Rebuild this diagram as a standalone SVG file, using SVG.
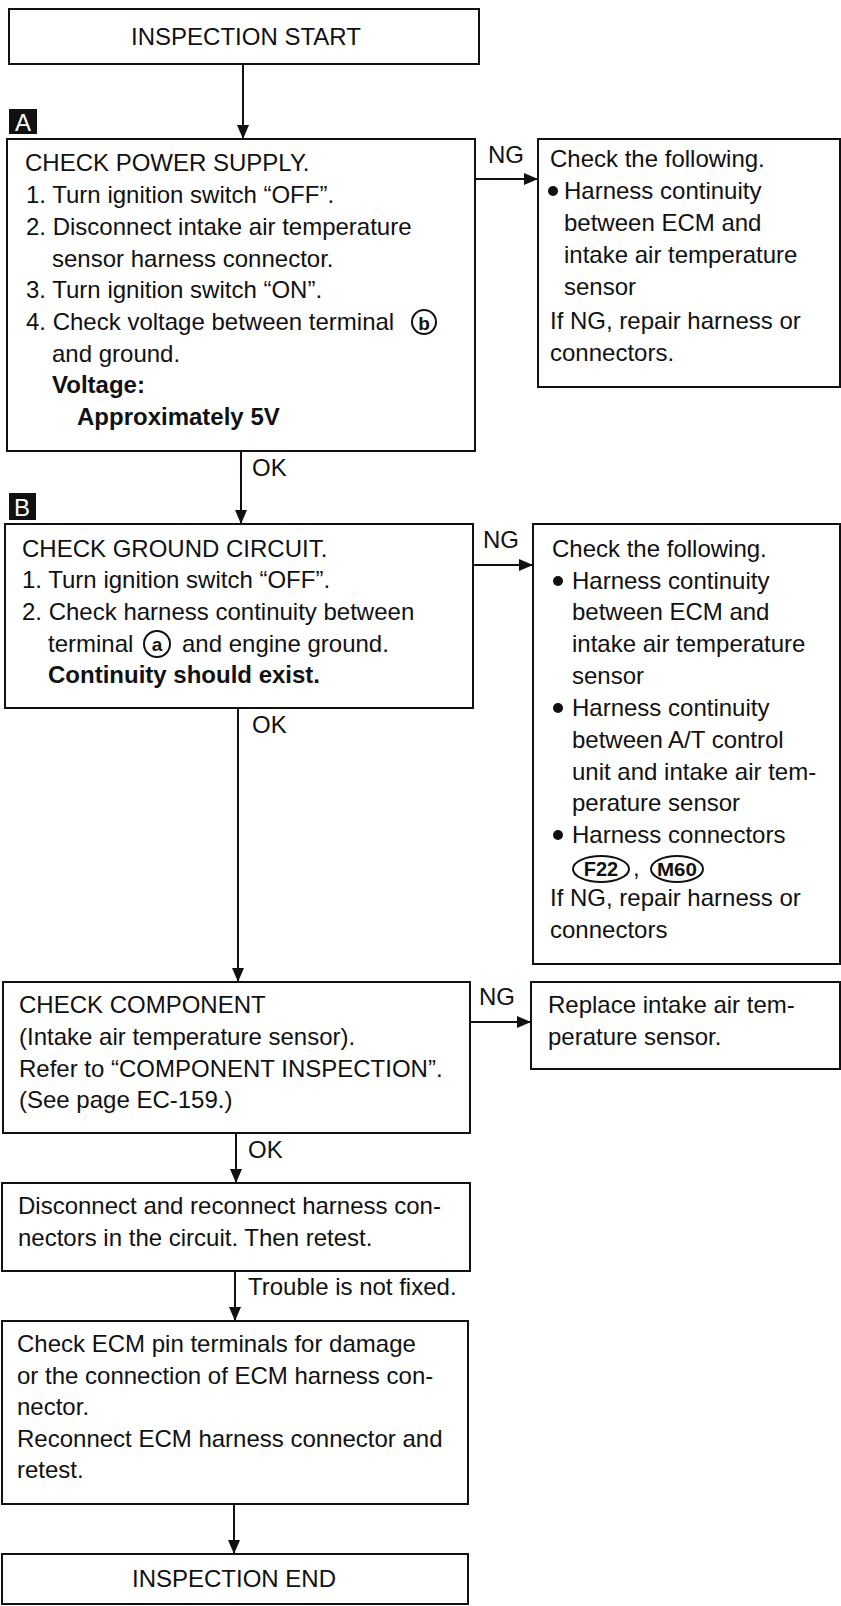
<svg xmlns="http://www.w3.org/2000/svg" width="841" height="1606" viewBox="0 0 841 1606">
<style>
.box{fill:#fff;stroke:#111;stroke-width:2}
.t{font-family:"Liberation Sans",Arial,sans-serif;font-size:24px;fill:#111}
.b{font-weight:bold}
.c{text-anchor:middle}
.edge{stroke:#111;stroke-width:2;fill:none}
.tag{fill:#111}
.tagt{font-family:"Liberation Sans",Arial,sans-serif;font-size:24px;fill:#fff;text-anchor:middle}
.ring{fill:none;stroke:#111;stroke-width:2}
</style>
<defs>
<marker id="ah" markerWidth="14" markerHeight="12" refX="14" refY="6" orient="auto" markerUnits="userSpaceOnUse">
<path d="M0,0 L14,6 L0,12 z" fill="#111"/>
</marker>
</defs>
<rect width="841" height="1606" fill="#fff"/>

<g id="start">
<rect class="box" x="9" y="9" width="470" height="55"/>
<text class="t c" x="246" y="45">INSPECTION START</text>
</g>

<g id="tagA">
<rect class="tag" x="9" y="109" width="28" height="25"/>
<text class="tagt" x="23" y="131">A</text>
</g>

<g id="checkPower">
<rect class="box" x="7" y="139" width="468" height="312"/>
<text class="t" x="25" y="171">CHECK POWER SUPPLY.</text>
<text class="t" x="26" y="203">1. Turn ignition switch “OFF”.</text>
<text class="t" x="26" y="235">2. Disconnect intake air temperature</text>
<text class="t" x="52" y="267">sensor harness connector.</text>
<text class="t" x="26" y="298">3. Turn ignition switch “ON”.</text>
<text class="t" x="26" y="330">4. Check voltage between terminal</text>
<circle class="ring" cx="424" cy="322" r="12"/>
<text class="t b c" x="424" y="330" style="font-size:19px">b</text>
<text class="t" x="52" y="362">and ground.</text>
<text class="t b" x="52" y="393">Voltage:</text>
<text class="t b" x="77" y="425">Approximately 5V</text>
</g>

<g id="ng1">
<rect class="box" x="538" y="139" width="302" height="248"/>
<text class="t" x="550" y="167">Check the following.</text>
<circle cx="553" cy="191" r="5" fill="#111"/>
<text class="t" x="564" y="199">Harness continuity</text>
<text class="t" x="564" y="231">between ECM and</text>
<text class="t" x="564" y="263">intake air temperature</text>
<text class="t" x="564" y="295">sensor</text>
<text class="t" x="550" y="329">If NG, repair harness or</text>
<text class="t" x="550" y="361">connectors.</text>
</g>

<g id="tagB">
<rect class="tag" x="9" y="493" width="27" height="27"/>
<text class="tagt" x="22" y="516">B</text>
</g>

<g id="checkGround">
<rect class="box" x="5" y="524" width="468" height="184"/>
<text class="t" x="22" y="557">CHECK GROUND CIRCUIT.</text>
<text class="t" x="22" y="588">1. Turn ignition switch “OFF”.</text>
<text class="t" x="22" y="620">2. Check harness continuity between</text>
<text class="t" x="48" y="652">terminal</text>
<circle class="ring" cx="157" cy="644" r="13"/>
<text class="t b c" x="157" y="651" style="font-size:19px">a</text>
<text class="t" x="182" y="652">and engine ground.</text>
<text class="t b" x="48" y="683">Continuity should exist.</text>
</g>

<g id="ng2">
<rect class="box" x="533" y="524" width="307" height="440"/>
<text class="t" x="552" y="557">Check the following.</text>
<circle cx="558" cy="581" r="5" fill="#111"/>
<text class="t" x="572" y="589">Harness continuity</text>
<text class="t" x="572" y="620">between ECM and</text>
<text class="t" x="572" y="652">intake air temperature</text>
<text class="t" x="572" y="684">sensor</text>
<circle cx="558" cy="708" r="5" fill="#111"/>
<text class="t" x="572" y="716">Harness continuity</text>
<text class="t" x="572" y="748">between A/T control</text>
<text class="t" x="572" y="780">unit and intake air tem-</text>
<text class="t" x="572" y="811">perature sensor</text>
<circle cx="558" cy="835" r="5" fill="#111"/>
<text class="t" x="572" y="843">Harness connectors</text>
<ellipse class="ring" cx="601" cy="869" rx="28" ry="13"/>
<text class="t b c" x="601" y="876" style="font-size:20px">F22</text>
<text class="t" x="633" y="876">,</text>
<ellipse class="ring" cx="677" cy="869" rx="26" ry="13"/>
<text class="t b c" x="677" y="876" style="font-size:19px" textLength="40" lengthAdjust="spacingAndGlyphs">M60</text>
<text class="t" x="550" y="906">If NG, repair harness or</text>
<text class="t" x="550" y="938">connectors</text>
</g>

<g id="checkComponent">
<rect class="box" x="3" y="982" width="467" height="151"/>
<text class="t" x="19" y="1013">CHECK COMPONENT</text>
<text class="t" x="19" y="1045">(Intake air temperature sensor).</text>
<text class="t" x="19" y="1077">Refer to “COMPONENT INSPECTION”.</text>
<text class="t" x="19" y="1108">(See page EC-159.)</text>
</g>

<g id="ng3">
<rect class="box" x="531" y="982" width="309" height="87"/>
<text class="t" x="548" y="1013">Replace intake air tem-</text>
<text class="t" x="548" y="1045">perature sensor.</text>
</g>

<g id="reconnect">
<rect class="box" x="2" y="1183" width="468" height="88"/>
<text class="t" x="18" y="1214">Disconnect and reconnect harness con-</text>
<text class="t" x="18" y="1246">nectors in the circuit. Then retest.</text>
</g>

<g id="checkEcm">
<rect class="box" x="2" y="1321" width="466" height="183"/>
<text class="t" x="17" y="1352">Check ECM pin terminals for damage</text>
<text class="t" x="17" y="1384">or the connection of ECM harness con-</text>
<text class="t" x="17" y="1415">nector.</text>
<text class="t" x="17" y="1447">Reconnect ECM harness connector and</text>
<text class="t" x="17" y="1478">retest.</text>
</g>

<g id="end">
<rect class="box" x="2" y="1554" width="466" height="50"/>
<text class="t c" x="234" y="1587">INSPECTION END</text>
</g>

<g id="connectors">
<line class="edge" x1="243" y1="64" x2="243" y2="139" marker-end="url(#ah)"/>
<line class="edge" x1="475" y1="179" x2="538" y2="179" marker-end="url(#ah)"/>
<text class="t" x="488" y="163">NG</text>
<line class="edge" x1="241" y1="451" x2="241" y2="524" marker-end="url(#ah)"/>
<text class="t" x="252" y="476">OK</text>
<line class="edge" x1="473" y1="565" x2="533" y2="565" marker-end="url(#ah)"/>
<text class="t" x="483" y="548">NG</text>
<line class="edge" x1="238" y1="708" x2="238" y2="982" marker-end="url(#ah)"/>
<text class="t" x="252" y="733">OK</text>
<line class="edge" x1="470" y1="1022" x2="531" y2="1022" marker-end="url(#ah)"/>
<text class="t" x="479" y="1005">NG</text>
<line class="edge" x1="236" y1="1133" x2="236" y2="1183" marker-end="url(#ah)"/>
<text class="t" x="248" y="1158">OK</text>
<line class="edge" x1="235" y1="1271" x2="235" y2="1321" marker-end="url(#ah)"/>
<text class="t" x="248" y="1295">Trouble is not fixed.</text>
<line class="edge" x1="234" y1="1504" x2="234" y2="1554" marker-end="url(#ah)"/>
</g>
</svg>
